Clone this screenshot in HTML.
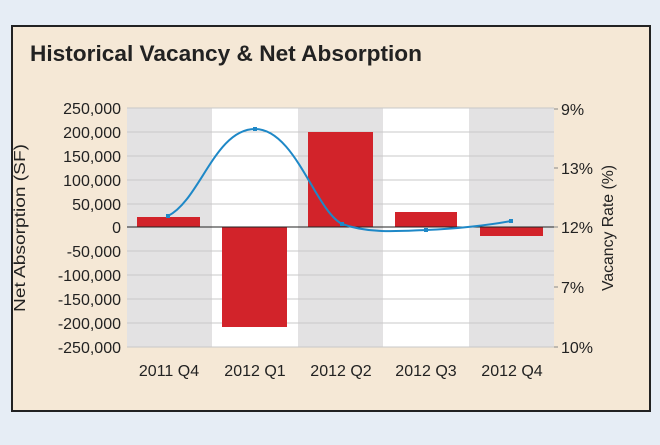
<!DOCTYPE html>
<html><head><style>
body{margin:0;background:#e6edf5;width:660px;height:440px;overflow:hidden}
svg text{font-family:"Liberation Sans Narrow","Liberation Sans",sans-serif;fill:#222}
</style></head><body>
<svg width="660" height="440" xmlns="http://www.w3.org/2000/svg">
<rect x="12" y="26" width="638" height="385" fill="#f5e8d6" stroke="#222" stroke-width="2"/>
<text x="30" y="61" font-size="22" font-weight="bold" style="font-family:'Liberation Sans',sans-serif" textLength="392" lengthAdjust="spacingAndGlyphs">Historical Vacancy &amp; Net Absorption</text>
<rect x="127" y="108" width="85" height="239" fill="#e3e2e3"/>
<rect x="212" y="108" width="86" height="239" fill="#fff"/>
<rect x="298" y="108" width="85" height="239" fill="#e3e2e3"/>
<rect x="383" y="108" width="86" height="239" fill="#fff"/>
<rect x="469" y="108" width="85" height="239" fill="#e3e2e3"/>
<g stroke="#c8c8c8" stroke-width="1">
<line x1="127" x2="554" y1="108" y2="108"/><line x1="127" x2="554" y1="132" y2="132"/>
<line x1="127" x2="554" y1="156" y2="156"/><line x1="127" x2="554" y1="180" y2="180"/>
<line x1="127" x2="554" y1="204" y2="204"/><line x1="127" x2="554" y1="251" y2="251"/>
<line x1="127" x2="554" y1="275" y2="275"/><line x1="127" x2="554" y1="299" y2="299"/>
<line x1="127" x2="554" y1="323" y2="323"/><line x1="127" x2="554" y1="347" y2="347"/>
</g>
<g fill="#d2232a">
<rect x="137" y="217" width="63" height="10"/>
<rect x="222" y="227" width="65" height="100"/>
<rect x="308" y="132" width="65" height="95"/>
<rect x="395" y="212" width="62" height="15"/>
<rect x="480" y="227" width="63" height="9"/>
</g>
<line x1="127" x2="556" y1="227" y2="227" stroke="#222" stroke-width="1"/>
<path d="M168,216 C200,200 215,129 255,129 C295,129 315,210 342,224 C370,234 400,231 426,230 C455,229 490,225 511,221" fill="none" stroke="#1e88c7" stroke-width="2"/>
<g fill="#1e88c7"><rect x="166" y="214" width="4" height="4"/><rect x="253" y="127" width="4" height="4"/><rect x="340" y="222" width="4" height="4"/><rect x="424" y="228" width="4" height="4"/><rect x="509" y="219" width="4" height="4"/></g>
<g font-size="16" text-anchor="end">
<text x="121" y="114">250,000</text><text x="121" y="138">200,000</text><text x="121" y="162">150,000</text>
<text x="121" y="186">100,000</text><text x="121" y="210">50,000</text><text x="121" y="233">0</text>
<text x="121" y="257">-50,000</text><text x="121" y="281">-100,000</text><text x="121" y="305">-150,000</text>
<text x="121" y="329">-200,000</text><text x="121" y="353">-250,000</text>
</g>
<g stroke="#888"><line x1="554" x2="558" y1="109" y2="109"/><line x1="554" x2="558" y1="168" y2="168"/><line x1="554" x2="558" y1="227" y2="227"/><line x1="554" x2="558" y1="287" y2="287"/><line x1="554" x2="558" y1="347" y2="347"/></g>
<g font-size="16">
<text x="561" y="115">9%</text><text x="561" y="174">13%</text><text x="561" y="233">12%</text><text x="561" y="293">7%</text><text x="561" y="353">10%</text>
</g>
<g font-size="16" text-anchor="middle">
<text x="169" y="376">2011 Q4</text><text x="255" y="376">2012 Q1</text><text x="341" y="376">2012 Q2</text><text x="426" y="376">2012 Q3</text><text x="512" y="376">2012 Q4</text>
</g>
<text font-size="16" text-anchor="middle" transform="translate(25,228) rotate(-90)" textLength="168" lengthAdjust="spacingAndGlyphs">Net Absorption (SF)</text>
<text font-size="16" text-anchor="middle" transform="translate(613,228) rotate(-90)" textLength="126" lengthAdjust="spacingAndGlyphs">Vacancy Rate (%)</text>
</svg>
</body></html>
